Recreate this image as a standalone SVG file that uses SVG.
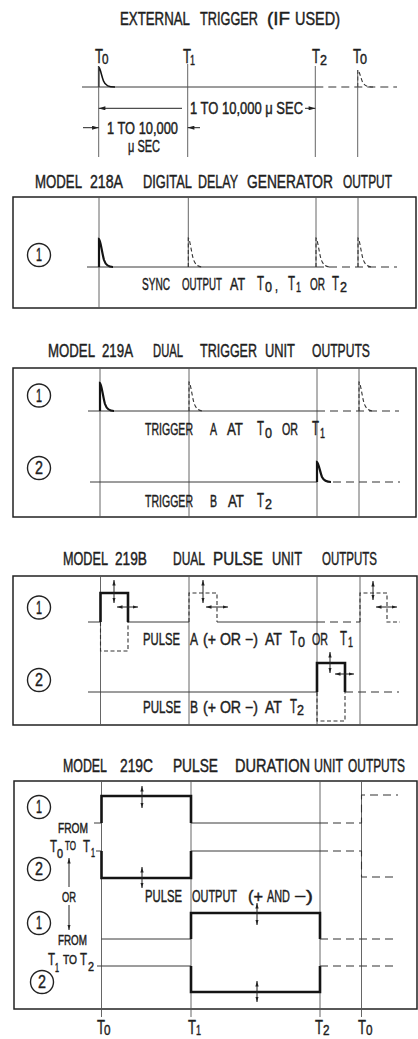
<svg xmlns="http://www.w3.org/2000/svg" width="418" height="1039" viewBox="0 0 418 1039">
<defs>
<style>
text{font-family:"Liberation Sans",Arial,sans-serif;fill:#1e1e1e;stroke:#1e1e1e;stroke-width:0.45}
.h{font-size:18px}
.l{font-size:16.5px}
.T{font-size:21px}
.s{font-size:15px}
.m{font-size:14px}
.ts{font-size:17px}
.ss{font-size:12px}
.c{font-size:18px;text-anchor:middle}
.thin{fill:none;stroke:#3a3a3a;stroke-width:1}
.grid{fill:none;stroke:#555;stroke-width:0.9}
.thick{fill:none;stroke:#141414;stroke-width:2.6}
.pls{fill:none;stroke:#141414;stroke-width:2.2}
.dash{fill:none;stroke:#333;stroke-width:1.1;stroke-dasharray:8 5}
.dp{fill:none;stroke:#333;stroke-width:1.1;stroke-dasharray:4 2.5}
.box{fill:none;stroke:#222;stroke-width:1.5}
.circ{fill:none;stroke:#222;stroke-width:1.4}
.arr{fill:none;stroke:#222;stroke-width:1;marker-start:url(#ah);marker-end:url(#ah)}
.arr1{fill:none;stroke:#222;stroke-width:1;marker-end:url(#ah)}
.dim{fill:none;stroke:#222;stroke-width:1;marker-end:url(#ahb)}
</style>
<marker id="ah" viewBox="0 0 10 6" refX="10" refY="3" markerWidth="5.5" markerHeight="3.6" markerUnits="userSpaceOnUse" orient="auto-start-reverse"><path d="M0,0 L10,3 L0,6 z" fill="#222"/></marker>
<marker id="ahb" viewBox="0 0 10 6" refX="10" refY="3" markerWidth="7" markerHeight="4" markerUnits="userSpaceOnUse" orient="auto-start-reverse"><path d="M0,0 L10,3 L0,6 z" fill="#222"/></marker>
</defs>
<rect width="418" height="1039" fill="#fff"/>

<g id="external-trigger">
<text class="h" transform="scale(.62 1)" y="25"><tspan x="193.5" textLength="112.9" lengthAdjust="spacingAndGlyphs">EXTERNAL</tspan><tspan x="322.6" textLength="93.5" lengthAdjust="spacingAndGlyphs">TRIGGER</tspan><tspan x="430.6" textLength="37.1" lengthAdjust="spacingAndGlyphs">(IF</tspan><tspan x="475.8" textLength="72.6" lengthAdjust="spacingAndGlyphs">USED)</tspan></text>
<text class="T" transform="scale(.62 1)" y="63"><tspan x="153.2" textLength="12.9" lengthAdjust="spacingAndGlyphs">T</tspan><tspan class="s" x="164.5" y="64" textLength="10.5" lengthAdjust="spacingAndGlyphs">0</tspan><tspan x="295.2" y="63" textLength="12.9" lengthAdjust="spacingAndGlyphs">T</tspan><tspan class="s" x="306.5" y="65" textLength="8.1" lengthAdjust="spacingAndGlyphs">1</tspan><tspan x="503.2" y="63" textLength="12.9" lengthAdjust="spacingAndGlyphs">T</tspan><tspan class="s" x="516.1" y="65" textLength="11.3" lengthAdjust="spacingAndGlyphs">2</tspan><tspan x="569.4" y="63" textLength="12.9" lengthAdjust="spacingAndGlyphs">T</tspan><tspan class="s" x="580.6" y="64" textLength="11.3" lengthAdjust="spacingAndGlyphs">0</tspan></text>
<path class="thin" d="M82 87 H315.3"/>
<path class="dash" d="M315.3 87 H397"/>
<path class="pls" style="stroke-width:1.6" d="M98.7 87 V67 C100.2 67.5 101.5 76 103.5 81 C105.5 86 109 87 115 87"/>
<path class="dp" d="M357.7 87 V70 C359.2 70.5 360.5 77 362.5 82 C364.5 86 368 87 373 87"/>
<path class="grid" d="M98.7 67 V157 M187.7 64 V157 M315.3 66 V157 M357.7 70 V157"/>
<text class="l" transform="scale(.62 1)" x="306.5" y="114" textLength="182.3" lengthAdjust="spacingAndGlyphs">1 TO 10,000 μ SEC</text>
<text class="l" transform="scale(.62 1)" x="172.6" y="134" textLength="114.5" lengthAdjust="spacingAndGlyphs">1 TO 10,000</text>
<text class="l" transform="scale(.62 1)" x="206.5" y="152" textLength="51.6" lengthAdjust="spacingAndGlyphs">μ SEC</text>
</g>

<g id="model-218a">
<text class="h" transform="scale(.62 1)" y="188"><tspan x="56.5" textLength="75.8" lengthAdjust="spacingAndGlyphs">MODEL</tspan><tspan x="145.2" textLength="53.2" lengthAdjust="spacingAndGlyphs">218A</tspan><tspan x="230.6" textLength="79" lengthAdjust="spacingAndGlyphs">DIGITAL</tspan><tspan x="319.4" textLength="64.5" lengthAdjust="spacingAndGlyphs">DELAY</tspan><tspan x="398.4" textLength="138.7" lengthAdjust="spacingAndGlyphs">GENERATOR</tspan><tspan x="553.2" textLength="79" lengthAdjust="spacingAndGlyphs">OUTPUT</tspan></text>
<rect class="box" x="13" y="197" width="403" height="111"/>
<path class="grid" d="M99 197 V308 M188.3 197 V267 M316 197 V267 M358 197 V267"/>
<path class="thin" d="M87 267 H316"/>
<path class="dash" d="M316 267 H397"/>
<path class="pls" d="M99 267 V239 C100.5 239.5 102 253 104 260 C106 266 109 267 113 267"/>
<path class="dp" d="M188.3 267 V238 C189.8 238.5 191.3 252 193.3 259 C195.3 265 198.3 267 203 267"/>
<path class="dp" d="M316 267 V238 C317.5 238.5 319 252 321 259 C323 265 326 267 331 267"/>
<path class="dp" d="M358 267 V238 C359.5 238.5 361 252 363 259 C365 265 368 267 373 267"/>
<circle class="circ" cx="39" cy="255" r="11.5"/>
<text class="c" transform="scale(.62 1)" x="62.9" y="261.5" textLength="9.7" lengthAdjust="spacingAndGlyphs">1</text>
<text class="l" transform="scale(.62 1)" y="290"><tspan x="229" textLength="45.2" lengthAdjust="spacingAndGlyphs">SYNC</tspan><tspan x="293.5" textLength="64.5" lengthAdjust="spacingAndGlyphs">OUTPUT</tspan><tspan x="371" textLength="24.2" lengthAdjust="spacingAndGlyphs">AT</tspan><tspan class="T" x="414.5" textLength="11.3" lengthAdjust="spacingAndGlyphs">T</tspan><tspan class="s" x="427.4" y="292" textLength="11.3" lengthAdjust="spacingAndGlyphs">0</tspan><tspan x="443.5" y="291" textLength="4.8" lengthAdjust="spacingAndGlyphs">,</tspan><tspan class="T" x="464.5" y="290" textLength="11.3" lengthAdjust="spacingAndGlyphs">T</tspan><tspan class="s" x="477.4" y="292" textLength="8.1" lengthAdjust="spacingAndGlyphs">1</tspan><tspan x="500" y="290" textLength="24.2" lengthAdjust="spacingAndGlyphs">OR</tspan><tspan class="T" x="535.5" textLength="11.3" lengthAdjust="spacingAndGlyphs">T</tspan><tspan class="s" x="548.4" y="292" textLength="11.3" lengthAdjust="spacingAndGlyphs">2</tspan></text>
</g>

<g id="model-219a">
<text class="h" transform="scale(.62 1)" y="357"><tspan x="77.4" textLength="75.8" lengthAdjust="spacingAndGlyphs">MODEL</tspan><tspan x="164.5" textLength="50" lengthAdjust="spacingAndGlyphs">219A</tspan><tspan x="246.8" textLength="48.4" lengthAdjust="spacingAndGlyphs">DUAL</tspan><tspan x="322.6" textLength="91.9" lengthAdjust="spacingAndGlyphs">TRIGGER</tspan><tspan x="427.4" textLength="48.4" lengthAdjust="spacingAndGlyphs">UNIT</tspan><tspan x="503.2" textLength="93.5" lengthAdjust="spacingAndGlyphs">OUTPUTS</tspan></text>
<rect class="box" x="13" y="368" width="403" height="149"/>
<path class="grid" d="M100 368 V517 M189 368 V517 M317 368 V517 M359 368 V517"/>
<path class="thin" d="M88 411 H317"/>
<path class="dash" d="M317 411 H399"/>
<path class="pls" d="M100 411 V383 C101.5 383.5 103 397 105 404 C107 410 110 411 114 411"/>
<path class="dp" d="M189 411 V382 C190.5 382.5 192 396 194 403 C196 409 199 411 204 411"/>
<path class="dp" d="M359 411 V382 C360.5 382.5 362 396 364 403 C366 409 369 411 374 411"/>
<path class="thin" d="M90 482 H317"/>
<path class="pls" d="M317 482 V462 C318.5 462.5 320 472 322 477 C324 481 327 482 331 482"/>
<path class="dash" d="M333 482 H400"/>
<circle class="circ" cx="39" cy="395.5" r="11.5"/>
<text class="c" transform="scale(.62 1)" x="62.9" y="402" textLength="9.7" lengthAdjust="spacingAndGlyphs">1</text>
<circle class="circ" cx="39" cy="468" r="11.5"/>
<text class="c" transform="scale(.62 1)" x="62.9" y="474.5" textLength="12.9" lengthAdjust="spacingAndGlyphs">2</text>
<text class="l" transform="scale(.62 1)" y="435"><tspan x="233.9" textLength="77.4" lengthAdjust="spacingAndGlyphs">TRIGGER</tspan><tspan x="338.7" textLength="11.3" lengthAdjust="spacingAndGlyphs">A</tspan><tspan x="366.1" textLength="25.8" lengthAdjust="spacingAndGlyphs">AT</tspan><tspan class="T" x="414.5" textLength="11.3" lengthAdjust="spacingAndGlyphs">T</tspan><tspan class="s" x="427.4" y="438" textLength="11.3" lengthAdjust="spacingAndGlyphs">0</tspan><tspan x="454.8" y="435" textLength="25.8" lengthAdjust="spacingAndGlyphs">OR</tspan><tspan class="T" x="503.2" textLength="11.3" lengthAdjust="spacingAndGlyphs">T</tspan><tspan class="s" x="516.1" y="438" textLength="8.1" lengthAdjust="spacingAndGlyphs">1</tspan></text>
<text class="l" transform="scale(.62 1)" y="507"><tspan x="233.9" textLength="77.4" lengthAdjust="spacingAndGlyphs">TRIGGER</tspan><tspan x="338.7" textLength="11.3" lengthAdjust="spacingAndGlyphs">B</tspan><tspan x="367.7" textLength="25.8" lengthAdjust="spacingAndGlyphs">AT</tspan><tspan class="T" x="414.5" textLength="11.3" lengthAdjust="spacingAndGlyphs">T</tspan><tspan class="s" x="427.4" y="509" textLength="11.3" lengthAdjust="spacingAndGlyphs">2</tspan></text>
</g>

<g id="model-219b">
<text class="h" transform="scale(.62 1)" y="565"><tspan x="101.6" textLength="72.6" lengthAdjust="spacingAndGlyphs">MODEL</tspan><tspan x="185.5" textLength="51.6" lengthAdjust="spacingAndGlyphs">219B</tspan><tspan x="279" textLength="51.6" lengthAdjust="spacingAndGlyphs">DUAL</tspan><tspan x="343.5" textLength="80.6" lengthAdjust="spacingAndGlyphs">PULSE</tspan><tspan x="438.7" textLength="48.4" lengthAdjust="spacingAndGlyphs">UNIT</tspan><tspan x="519.4" textLength="88.7" lengthAdjust="spacingAndGlyphs">OUTPUTS</tspan></text>
<rect class="box" x="13" y="576" width="404" height="149"/>
<path class="grid" d="M100.5 576 V725 M189 576 V725 M317 576 V725 M360 576 V725"/>
<path class="thin" d="M88 622 H100.5 M128 622 H189 M217 622 H317"/>
<path class="thick" d="M100.5 622 V593 H128 V622"/>
<path class="dp" d="M100.5 622 V651 H128 V622"/>
<path class="dp" d="M189 622 V593 H217 V622"/>
<path class="dash" d="M317 622 H360"/>
<path class="dp" d="M360 622 V593 H387 V622 H400"/>
<path class="thin" d="M88 692 H317"/>
<path class="thick" d="M317 692 V663 H345 V692"/>
<path class="dp" d="M317 692 V721 H345 V692"/>
<path class="dash" d="M345 692 H399"/>
<circle class="circ" cx="39" cy="607.5" r="11.5"/>
<text class="c" transform="scale(.62 1)" x="62.9" y="614" textLength="9.7" lengthAdjust="spacingAndGlyphs">1</text>
<circle class="circ" cx="39" cy="680" r="11.5"/>
<text class="c" transform="scale(.62 1)" x="62.9" y="686.5" textLength="12.9" lengthAdjust="spacingAndGlyphs">2</text>
<text class="l" transform="scale(.62 1)" y="645"><tspan x="230.6" textLength="59.7" lengthAdjust="spacingAndGlyphs">PULSE</tspan><tspan x="306.5" textLength="12.9" lengthAdjust="spacingAndGlyphs">A</tspan><tspan x="327.4" textLength="88.7" lengthAdjust="spacingAndGlyphs">(+ OR −)</tspan><tspan x="427.4" textLength="27.4" lengthAdjust="spacingAndGlyphs">AT</tspan><tspan class="T" x="467.7" textLength="11.3" lengthAdjust="spacingAndGlyphs">T</tspan><tspan class="s" x="480.6" y="647" textLength="11.3" lengthAdjust="spacingAndGlyphs">0</tspan><tspan x="503.2" y="645" textLength="25.8" lengthAdjust="spacingAndGlyphs">OR</tspan><tspan class="T" x="548.4" textLength="11.3" lengthAdjust="spacingAndGlyphs">T</tspan><tspan class="s" x="561.3" y="647" textLength="8.1" lengthAdjust="spacingAndGlyphs">1</tspan></text>
<text class="l" transform="scale(.62 1)" y="713"><tspan x="230.6" textLength="61.3" lengthAdjust="spacingAndGlyphs">PULSE</tspan><tspan x="306.5" textLength="12.9" lengthAdjust="spacingAndGlyphs">B</tspan><tspan x="327.4" textLength="88.7" lengthAdjust="spacingAndGlyphs">(+ OR −)</tspan><tspan x="427.4" textLength="27.4" lengthAdjust="spacingAndGlyphs">AT</tspan><tspan class="T" x="467.7" textLength="11.3" lengthAdjust="spacingAndGlyphs">T</tspan><tspan class="s" x="479" y="715" textLength="11.3" lengthAdjust="spacingAndGlyphs">2</tspan></text>
</g>

<g id="model-219c">
<text class="h" transform="scale(.62 1)" y="772"><tspan x="101.6" textLength="71" lengthAdjust="spacingAndGlyphs">MODEL</tspan><tspan x="193.5" textLength="53.2" lengthAdjust="spacingAndGlyphs">219C</tspan><tspan x="279" textLength="72.6" lengthAdjust="spacingAndGlyphs">PULSE</tspan><tspan x="379" textLength="121" lengthAdjust="spacingAndGlyphs">DURATION</tspan><tspan x="506.5" textLength="46.8" lengthAdjust="spacingAndGlyphs">UNIT</tspan><tspan x="561.3" textLength="91.9" lengthAdjust="spacingAndGlyphs">OUTPUTS</tspan></text>
<rect class="box" x="14" y="781" width="403" height="228"/>
<path class="grid" d="M101.5 781 V1017 M191 781 V1017 M320 781 V1017 M361.5 781 V1017"/>
<path class="thin" d="M94 823 H101.5 M191 823 H320"/>
<path class="thick" d="M101.5 823 V796 H191 V823"/>
<path class="dash" d="M320 823 H361.5 V795 H398"/>
<path class="thin" d="M96 851 H101.5 M191 851 H320"/>
<path class="thick" d="M101.5 851 V878 H191 V851"/>
<path class="dash" d="M320 851 H361.5 V877 H398"/>
<path class="thin" d="M101.5 939 H191"/>
<path class="thick" d="M191 939 V913 H320 V939"/>
<path class="dash" d="M320 939 H398"/>
<path class="thin" d="M97 966 H191"/>
<path class="thick" d="M191 966 V992 H320 V966"/>
<path class="dash" d="M320 966 H398"/>
<circle class="circ" cx="39" cy="807" r="11.5"/>
<text class="c" transform="scale(.62 1)" x="62.9" y="813.5" textLength="9.7" lengthAdjust="spacingAndGlyphs">1</text>
<circle class="circ" cx="39" cy="869" r="11.5"/>
<text class="c" transform="scale(.62 1)" x="62.9" y="875.5" textLength="12.9" lengthAdjust="spacingAndGlyphs">2</text>
<circle class="circ" cx="39" cy="923" r="11.5"/>
<text class="c" transform="scale(.62 1)" x="62.9" y="929.5" textLength="9.7" lengthAdjust="spacingAndGlyphs">1</text>
<circle class="circ" cx="42" cy="982" r="11.5"/>
<text class="c" transform="scale(.62 1)" x="67.7" y="988.5" textLength="12.9" lengthAdjust="spacingAndGlyphs">2</text>
<text class="m" transform="scale(.62 1)" x="93.5" y="833" textLength="48.4" lengthAdjust="spacingAndGlyphs">FROM</text>
<text class="ts" transform="scale(.62 1)" y="852"><tspan x="80.6" textLength="11.3" lengthAdjust="spacingAndGlyphs">T</tspan><tspan class="ss" x="91.9" y="858" textLength="9.7" lengthAdjust="spacingAndGlyphs">0</tspan><tspan class="ss" x="104.8" y="850" textLength="17.7" lengthAdjust="spacingAndGlyphs">TO</tspan><tspan x="133.9" y="852" textLength="11.3" lengthAdjust="spacingAndGlyphs">T</tspan><tspan class="ss" x="146.8" y="857" textLength="6.5" lengthAdjust="spacingAndGlyphs">1</tspan></text>
<text class="m" transform="scale(.62 1)" x="100" y="902" textLength="22.6" lengthAdjust="spacingAndGlyphs">OR</text>
<text class="m" transform="scale(.62 1)" x="93.5" y="945" textLength="46.8" lengthAdjust="spacingAndGlyphs">FROM</text>
<text class="ts" transform="scale(.62 1)" y="965"><tspan x="77.4" textLength="11.3" lengthAdjust="spacingAndGlyphs">T</tspan><tspan class="ss" x="88.7" y="972" textLength="6.5" lengthAdjust="spacingAndGlyphs">1</tspan><tspan class="ss" x="101.6" y="964" textLength="22.6" lengthAdjust="spacingAndGlyphs">TO</tspan><tspan x="129" y="965" textLength="11.3" lengthAdjust="spacingAndGlyphs">T</tspan><tspan class="ss" x="141.9" y="971" textLength="9.7" lengthAdjust="spacingAndGlyphs">2</tspan></text>
<text class="l" transform="scale(.62 1)" y="902"><tspan x="233.9" textLength="59.7" lengthAdjust="spacingAndGlyphs">PULSE</tspan><tspan x="309.7" textLength="72.6" lengthAdjust="spacingAndGlyphs">OUTPUT</tspan><tspan x="400" textLength="24.2" lengthAdjust="spacingAndGlyphs">(+</tspan><tspan x="430.6" textLength="37.1" lengthAdjust="spacingAndGlyphs">AND</tspan><tspan x="474.2" textLength="30.6" lengthAdjust="spacingAndGlyphs">−)</tspan></text>
<text class="T" transform="scale(.62 1)" y="1034"><tspan x="156.5" textLength="12.9" lengthAdjust="spacingAndGlyphs">T</tspan><tspan class="m" x="167.7" y="1035.5" textLength="10.5" lengthAdjust="spacingAndGlyphs">0</tspan><tspan x="303.2" y="1034" textLength="12.9" lengthAdjust="spacingAndGlyphs">T</tspan><tspan class="m" x="316.1" y="1035.5" textLength="8.1" lengthAdjust="spacingAndGlyphs">1</tspan><tspan x="508.1" y="1034" textLength="12.9" lengthAdjust="spacingAndGlyphs">T</tspan><tspan class="m" x="521" y="1035.5" textLength="10.5" lengthAdjust="spacingAndGlyphs">2</tspan><tspan x="577.4" y="1034" textLength="12.9" lengthAdjust="spacingAndGlyphs">T</tspan><tspan class="m" x="590.3" y="1035.5" textLength="10.5" lengthAdjust="spacingAndGlyphs">0</tspan></text>
</g>

<g id="connectors">
<path class="dim" d="M182 108.3 H98.7"/>
<path class="dim" d="M305 108.3 H315.3"/>
<path class="dim" d="M83 127.7 H98.7"/>
<path class="dim" d="M200 127.7 H187.7"/>
<path class="arr" d="M114 580 V603"/>
<path class="arr" d="M117 607 H138"/>
<path class="arr" d="M203 580 V603"/>
<path class="arr" d="M206 607 H228"/>
<path class="arr" d="M373 581 V600"/>
<path class="arr" d="M376 607 H397"/>
<path class="arr" d="M330 652 V673"/>
<path class="arr" d="M335 674 H354"/>
<path class="arr" d="M142 786 V808"/>
<path class="arr" d="M142 867 V888"/>
<path class="arr" d="M257 903 V925"/>
<path class="arr" d="M257 981 V1002"/>
<path class="arr1" d="M69 887 V858"/>
<path class="arr1" d="M69 905 V930"/>
</g>
</svg>
